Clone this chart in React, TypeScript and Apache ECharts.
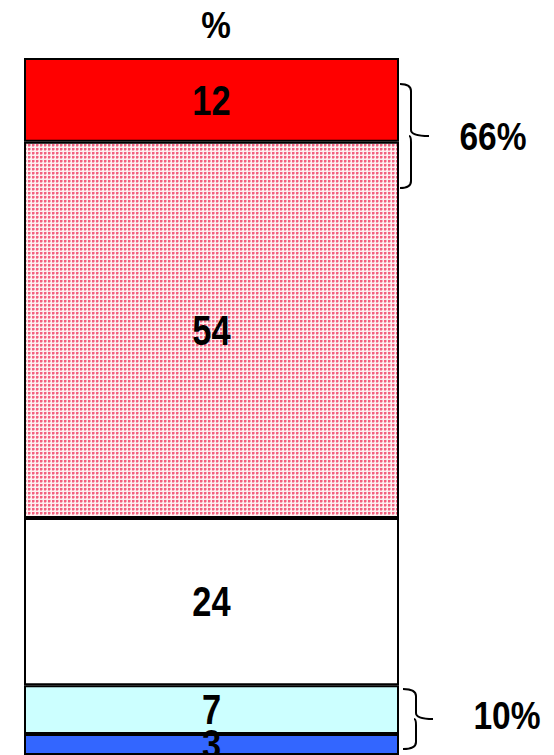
import React, { useEffect, useRef } from "react";
import * as echarts from "echarts";

// Stacked shares, listed from the bottom of the column to the top
const segmentNames = ["Blue", "Light blue", "White", "Pink", "Red"];
const segmentValues = [3, 7, 24, 54, 12];
const segmentColors = ["#3366ff", "#ccffff", "#ffffff", "pattern", "#ff0000"];
const categories = ["%"];
const groupLabels = ["66%", "10%"];

const FONT = "'Liberation Sans', Arial, sans-serif";
const NARROW = 0.82; // horizontal squeeze that gives the condensed bold look

function dottedPattern(): HTMLCanvasElement {
  const c = document.createElement("canvas");
  c.width = 4;
  c.height = 4;
  const ctx = c.getContext("2d")!;
  ctx.fillStyle = "#fdf0f0";
  ctx.fillRect(0, 0, 4, 4);
  ctx.fillStyle = "#f2607f";
  ctx.fillRect(0, 0, 2, 2);
  ctx.fillStyle = "#f8aab8";
  ctx.fillRect(2, 0, 1, 2);
  ctx.fillRect(0, 2, 2, 1);
  return c;
}

function bracePath(h: number, vx: number, tip: number): string {
  const m = h / 2;
  return [
    `M0,0`,
    `Q${vx},0 ${vx},7`,
    `L${vx},${m - 6}`,
    `Q${vx},${m} ${tip},${m}`,
    `M${vx},${m + 6}`,
    `Q${vx},${m} ${vx - 2},${m}`,
    `M${vx},${m + 6}`,
    `L${vx},${h - 7}`,
    `Q${vx},${h} 0,${h}`,
  ].join(" ");
}

echarts.graphic.registerShape("braceTop", echarts.graphic.extendPath(bracePath(104, 11, 29), {}));
echarts.graphic.registerShape("braceBottom", echarts.graphic.extendPath(bracePath(60, 13, 30), {}));

function condensedText(text: string, x: number, y: number, size: number, scale = NARROW) {
  return {
    type: "text",
    x,
    y,
    scaleX: scale,
    z: 100,
    style: {
      text,
      align: "center",
      verticalAlign: "middle",
      fontFamily: FONT,
      fontWeight: "bold",
      fontSize: size,
      fill: "#000000",
    },
  };
}

export default function App() {
  const ref = useRef<HTMLDivElement>(null);

  useEffect(() => {
    document.body.style.margin = "0";
    const chart = echarts.init(ref.current!, undefined, { renderer: "svg" });
    const pattern = { image: dottedPattern(), repeat: "repeat" as const };

    const series = segmentValues.map((v, i) => ({
      name: segmentNames[i],
      type: "bar" as const,
      stack: "total",
      barWidth: "100%",
      data: [v],
      itemStyle: {
        color: segmentColors[i] === "pattern" ? (pattern as any) : segmentColors[i],
        borderColor: "#000000",
        borderWidth: 2,
      },
    }));

    chart.setOption({
      animation: false,
      backgroundColor: "#ffffff",
      grid: { left: 24, top: 58, width: 375, height: 699 },
      xAxis: { type: "category", data: categories, show: false },
      yAxis: { type: "value", min: 0, max: 100, show: false },
      series,
    });

    // Value labels sit at the middle of each stacked segment
    const labels: any[] = [];
    let base = 0;
    segmentValues.forEach((v) => {
      const [px, py] = chart.convertToPixel({ gridIndex: 0 }, [categories[0], base + v / 2]) as number[];
      labels.push(condensedText(String(v), px, py, 42));
      base += v;
    });

    chart.setOption({
      graphic: [
        ...labels,
        condensedText(categories[0], 216, 25, 37, 0.9),
        {
          type: "braceTop",
          x: 400,
          y: 84,
          style: { fill: "none", stroke: "#000", lineWidth: 2 },
        },
        {
          type: "braceBottom",
          x: 403,
          y: 689,
          style: { fill: "none", stroke: "#000", lineWidth: 2 },
        },
        condensedText(groupLabels[0], 493, 137, 39, 0.86),
        condensedText(groupLabels[1], 507, 716, 39, 0.86),
      ],
    });

    return () => chart.dispose();
  }, []);

  return <div ref={ref} style={{ width: 554, height: 755 }} />;
}
